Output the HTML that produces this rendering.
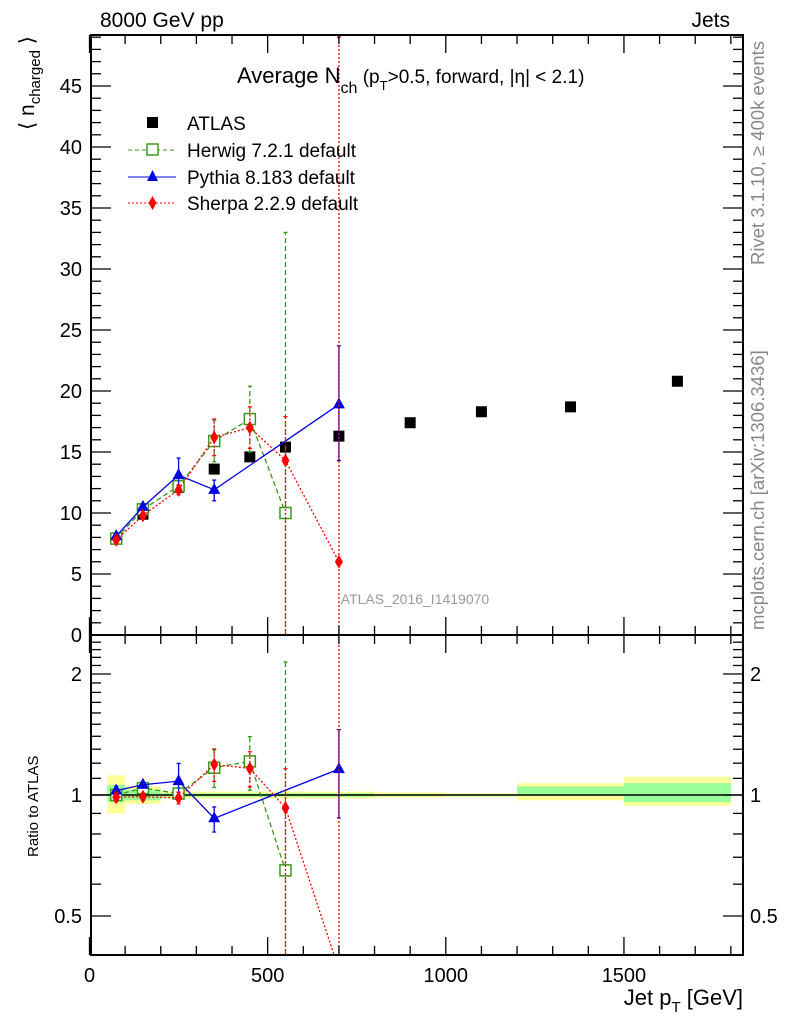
<!DOCTYPE html>
<html><head><meta charset="utf-8"><style>
body{margin:0;background:#fff}
svg{display:block;font-family:"Liberation Sans",sans-serif}
</style></head><body>
<svg id="c" width="786" height="1024" viewBox="0 0 786 1024">
<g id="bands"></g>
<g id="marks"></g>
<g id="axes"></g>
<text x="100" y="27" font-size="21">8000 GeV pp</text>
<text x="730" y="27" font-size="21" text-anchor="end">Jets</text>
<text x="237" y="83" font-size="22">Average N<tspan font-size="16" dy="10">ch</tspan><tspan font-size="19" dy="-10"> (p</tspan><tspan font-size="13" dy="7">T</tspan><tspan font-size="19" dy="-7">&gt;0.5, forward, |η| &lt; 2.1)</tspan></text>
<text transform="translate(34,130) rotate(-90)" font-size="21">⟨ n<tspan font-size="15" dy="6">charged</tspan><tspan dy="-6"> ⟩</tspan></text>
<text transform="translate(38,857) rotate(-90)" font-size="15">Ratio to ATLAS</text>
<text x="743" y="1005" font-size="22" text-anchor="end">Jet p<tspan font-size="15" dy="7">T</tspan><tspan dy="-7"> [GeV]</tspan></text>
<text transform="translate(764,265) rotate(-90)" font-size="18.5" fill="#888">Rivet 3.1.10, ≥ 400k events</text>
<text transform="translate(764,630) rotate(-90)" font-size="18.5" fill="#888">mcplots.cern.ch [arXiv:1306.3436]</text>
<text x="415" y="604" font-size="14" fill="#999" text-anchor="middle">ATLAS_2016_I1419070</text>
<g font-size="19">
<rect x="147" y="117" width="11" height="11" fill="#000"/>
<text x="187" y="130">ATLAS</text>
<line x1="128" y1="150" x2="176" y2="150" stroke="#3a9a1a" stroke-dasharray="4,3"/>
<rect x="147" y="144" width="11" height="11" fill="#fff" stroke="#3a9a1a" stroke-width="1.5"/>
<text x="187" y="157">Herwig 7.2.1 default</text>
<line x1="128" y1="177" x2="176" y2="177" stroke="#0000e0"/>
<polygon points="152.5,170 158,181 147,181" fill="#0000e0"/>
<text x="187" y="184">Pythia 8.183 default</text>
<line x1="128" y1="203" x2="176" y2="203" stroke="#f00" stroke-dasharray="2,2"/>
<polygon points="152.5,196 156.5,203 152.5,210 148.5,203" fill="#f00"/>
<text x="187" y="210">Sherpa 2.2.9 default</text>
</g>
</svg>
<script>
const binEdges=[50,100,200,300,400,500,600,800,1000,1200,1500,1800];
const xCenters=[75,150,250,350,450,550,700,900,1100,1350,1650];
const atlasVals=[7.9,9.9,12.1,13.6,14.6,15.4,16.3,17.4,18.3,18.7,20.8];
const yellowLo=[0.90,0.95,0.98,0.98,0.98,0.98,0.98,0.985,0.99,0.97,0.94];
const yellowHi=[1.12,1.05,1.02,1.02,1.02,1.02,1.02,1.015,1.01,1.07,1.11];
const greenLo=[0.96,0.97,0.99,0.99,0.99,0.99,0.99,0.995,0.995,1.00,0.96];
const greenHi=[1.06,1.03,1.01,1.01,1.01,1.01,1.01,1.005,1.005,1.05,1.07];
const herwigX=[75,150,250,350,450,550];
const herwigVals=[7.9,10.3,12.2,15.9,17.7,10.0];
const herwigLo=[7.6,10.0,11.8,14.2,15.0,0];
const herwigHi=[8.2,10.6,12.6,17.6,20.4,33.0];
const pythiaX=[75,150,250,350,700];
const pythiaVals=[8.1,10.5,13.1,11.9,18.9];
const pythiaLo=[7.9,10.3,12.3,11.0,14.3];
const pythiaHi=[8.3,10.7,14.5,12.7,23.7];
const sherpaX=[75,150,250,350,450,550,700];
const sherpaVals=[7.8,9.8,11.9,16.2,17.0,14.3,6.0];
const sherpaLo=[7.6,9.6,11.5,14.7,15.3,0,0];
const sherpaHi=[8.0,10.0,12.3,17.7,18.7,17.9,49];
const yTicks=[0,5,10,15,20,25,30,35,40,45];
const xTicks=[0,500,1000,1500];
const rTicks=[0.5,1,2];

const NS="http://www.w3.org/2000/svg";
const L=91,R=743,T=35,M=635,B=955;
const X=v=>89.5+v*0.3563;
const Y=v=>M-v*12.2;
const YR=r=>795-121*Math.log2(r);
const clipR=y=>Math.max(M,Math.min(B,y));
const clipM=y=>Math.max(T,Math.min(M,y));
function el(p,t,a){const e=document.createElementNS(NS,t);for(const k in a)e.setAttribute(k,a[k]);p.appendChild(e);return e;}
const bands=document.getElementById('bands'),marks=document.getElementById('marks'),axes=document.getElementById('axes');

for(let i=0;i<xCenters.length;i++){
  let r=el(bands,'rect',{x:X(binEdges[i]),width:X(binEdges[i+1])-X(binEdges[i]),y:YR(yellowHi[i]),height:YR(yellowLo[i])-YR(yellowHi[i]),fill:'#ffff99'});
  
  
  let g=el(bands,'rect',{x:X(binEdges[i]),width:X(binEdges[i+1])-X(binEdges[i]),y:YR(greenHi[i]),height:YR(greenLo[i])-YR(greenHi[i]),fill:'#99ff99'});
  
  
}
let one=el(bands,'line',{x1:L,x2:R,y1:YR(1),y2:YR(1),stroke:'#000','stroke-width':1.5});



function atlasAt(x){return atlasVals[xCenters.indexOf(x)];}
function series(xs,vals,lo,hi,color,dash,shape,name){
  const pm=xs.map((x,i)=>X(x)+','+clipM(Y(vals[i]))).join(' ');
  let p=el(marks,'polyline',{points:pm,fill:'none',stroke:color,'stroke-width':1.3,'stroke-dasharray':dash});
  
  
  const pr=xs.map((x,i)=>X(x)+','+YR(vals[i]/atlasAt(x))).join(' ');
  let cp=el(marks,'clipPath',{id:'cr'+name});el(cp,'rect',{x:L,y:M,width:R-L,height:B-M});
  let q=el(marks,'polyline',{points:pr,fill:'none',stroke:color,'stroke-width':1.3,'stroke-dasharray':dash,'clip-path':'url(#cr'+name+')'});
  
  
  xs.forEach((x,i)=>{
    const a=atlasAt(x),px=X(x);
    const segs=[[clipM(Y(lo[i])),clipM(Y(hi[i]))],[clipR(lo[i]>0?YR(lo[i]/a):B),clipR(YR(hi[i]/a))]];
    segs.forEach(s=>{
      let e=el(marks,'line',{x1:px,x2:px,y1:s[0],y2:s[1],stroke:color,'stroke-width':1.3,'stroke-dasharray':dash});
      
      
      [s[0],s[1]].forEach(yy=>{if(yy>T+1&&yy<B-1&&yy!=M){let c=el(marks,'line',{x1:px-2,x2:px+2,y1:yy,y2:yy,stroke:color,'stroke-width':1.3});}});
    });
    [Y(vals[i]),YR(vals[i]/a)].forEach(py=>{
      if(py<T||py>B)return;
      let m;
      if(shape=='sq')m=el(marks,'rect',{x:px-5.5,y:py-5.5,width:11,height:11,fill:'#fff',stroke:color,'stroke-width':1.5});
      else if(shape=='tri')m=el(marks,'polygon',{points:`${px},${py-7} ${px+6},${py+4} ${px-6},${py+4}`,fill:color});
      else m=el(marks,'polygon',{points:`${px},${py-7} ${px+4},${py} ${px},${py+7} ${px-4},${py}`,fill:color});
      
      
    });
  });
}
xCenters.forEach((x,i)=>{
  let m=el(marks,'rect',{x:X(x)-5.5,y:Y(atlasVals[i])-5.5,width:11,height:11,fill:'#000'});
  
  
});
series(herwigX,herwigVals,herwigLo,herwigHi,'#3a9a1a','5,3','sq','herwig');
series(pythiaX,pythiaVals,pythiaLo,pythiaHi,'#0000e0','none','tri','pythia');
series(sherpaX,sherpaVals,sherpaLo,sherpaHi,'#f00','2,2','dia','sherpa');

[[T,M],[M,B]].forEach(f=>{let r=el(axes,'rect',{x:L,y:f[0],width:R-L,height:f[1]-f[0],fill:'none',stroke:'#000','stroke-width':2});});
for(let v=0;v<=1800;v+=100){
  const big=v%500==0,len=big?18:9,px=X(v);
  [[T,1],[M,-1],[M,1],[B,-1]].forEach(o=>el(axes,'line',{x1:px,x2:px,y1:o[0],y2:o[0]+o[1]*len,stroke:'#000','stroke-width':1.3}));
}
xTicks.forEach(v=>{let t=el(axes,'text',{x:X(v),y:982,'font-size':20,'text-anchor':'middle'});t.textContent=v;});
for(let v=0;v<=49;v+=1){
  const big=v%5==0,len=big?20:10,py=Y(v);if(py<T)break;
  el(axes,'line',{x1:L,x2:L+len,y1:py,y2:py,stroke:'#000','stroke-width':1.3});
  el(axes,'line',{x1:R,x2:R-len,y1:py,y2:py,stroke:'#000','stroke-width':1.3});
}
yTicks.forEach(v=>{let t=el(axes,'text',{x:82,y:Y(v)+7,'font-size':20,'text-anchor':'end'});t.textContent=v;});
const rMinor=[0.4,0.5,0.6,0.7,0.8,0.9,1,1.1,1.2,1.3,1.4,1.5,1.6,1.7,1.8,1.9,2,2.1,2.2,2.3,2.4,2.5];
rMinor.forEach(v=>{const py=YR(v);if(py<M||py>B)return;const big=rTicks.includes(v),len=big?20:10;
  el(axes,'line',{x1:L,x2:L+len,y1:py,y2:py,stroke:'#000','stroke-width':1.3});
  el(axes,'line',{x1:R,x2:R-len,y1:py,y2:py,stroke:'#000','stroke-width':1.3});});
rTicks.forEach(v=>{
  let t=el(axes,'text',{x:82,y:YR(v)+7,'font-size':20,'text-anchor':'end'});t.textContent=v;
  let t2=el(axes,'text',{x:750,y:YR(v)+7,'font-size':20});t2.textContent=v;
});
</script>
</body></html>
